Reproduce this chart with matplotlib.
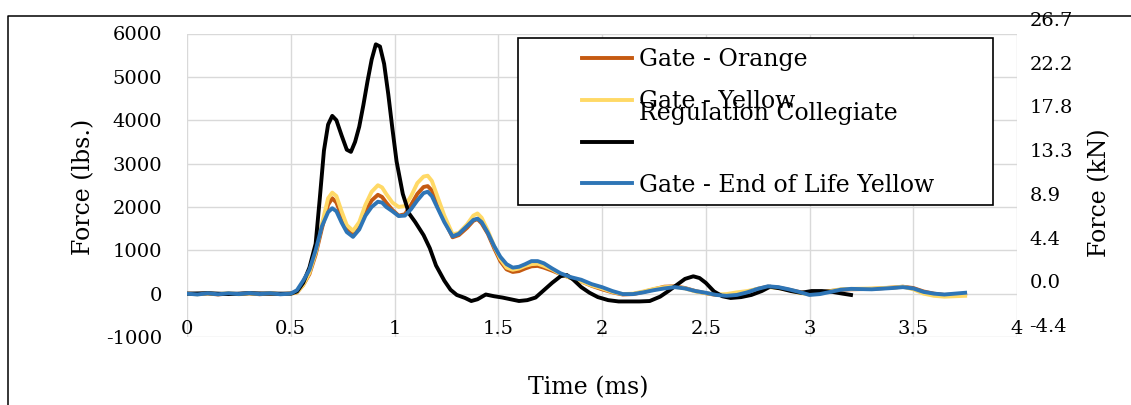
import numpy as np
import matplotlib
matplotlib.use("Agg")
import matplotlib.pyplot as plt
from matplotlib.lines import Line2D
from matplotlib.patches import Rectangle
from matplotlib.transforms import ScaledTranslation

plt.rcParams['font.family'] = ['DejaVu Serif']
plt.rcParams['axes.unicode_minus'] = False

# time (ms) for the three gate tests
t_gate = [0.0, 0.05, 0.1, 0.15, 0.2, 0.25, 0.3, 0.35, 0.4, 0.45, 0.5,
          0.53, 0.56, 0.59, 0.62, 0.65, 0.68, 0.70, 0.72, 0.745, 0.77, 0.80,
          0.83, 0.86, 0.89, 0.92, 0.94, 0.96, 0.99, 1.02, 1.05, 1.08, 1.11, 1.14, 1.16, 1.18,
          1.21, 1.24, 1.28, 1.31, 1.35, 1.38, 1.40, 1.42, 1.45, 1.48,
          1.51, 1.54, 1.57, 1.60, 1.63, 1.66, 1.69, 1.72, 1.76,
          1.80, 1.85, 1.90, 1.95, 2.00,
          2.05, 2.10, 2.15, 2.20, 2.25, 2.30, 2.35, 2.40, 2.45, 2.50,
          2.55, 2.60, 2.65, 2.70, 2.75, 2.80, 2.85, 2.90, 2.95, 3.00,
          3.05, 3.10, 3.15, 3.20,
          3.30, 3.40, 3.45, 3.50, 3.55, 3.60, 3.65, 3.70, 3.75]

gate_orange = [0, -10, 5, -20, 5, -10, 10, -15, 5, -10, 0,
               30, 200, 450, 900, 1500, 2050, 2200, 2100, 1800, 1500, 1380,
               1550, 1900, 2150, 2280, 2230, 2100, 1930, 1800, 1830, 2050, 2300, 2460, 2480, 2380,
               2050, 1700, 1300, 1350, 1520, 1680, 1720, 1620, 1380, 1050,
               750, 560, 500, 520, 580, 630, 640, 600, 530,
               450, 360, 280, 180, 100,
               30, -20, -10, 40, 100, 160, 170, 130, 60, 10,
               -30, -40, -20, 40, 110, 160, 140, 90, 40, 0,
               30, 60, 90, 100,
               110, 140, 160, 130, 50, 0, -30, -20, 0]

gate_yellow = [0, -15, 5, -10, 10, -15, 5, -10, 10, -10, 0,
               30, 200, 480, 950, 1600, 2200, 2330, 2250, 1900, 1580, 1450,
               1650, 2050, 2350, 2500, 2450, 2300, 2100, 2000, 2020, 2250, 2550, 2700, 2720, 2600,
               2200, 1800, 1370, 1400, 1600, 1800, 1850, 1750, 1450, 1100,
               800, 600, 550, 580, 640, 680, 690, 640, 560,
               450, 360, 280, 190, 120,
               40, -10, 0, 50, 110, 150, 160, 120, 50, 10,
               -20, -10, 30, 60, 110, 150, 130, 80, 20, -20,
               20, 60, 100, 110,
               120, 140, 160, 100, 0, -50, -70, -60, -50]

gate_eol = [0, -20, 10, -15, 10, -10, 15, -10, 10, -15, 0,
            80, 300, 550, 1000, 1550, 1880, 1970, 1900, 1640, 1420, 1310,
            1480, 1800, 2000, 2120, 2100, 2000, 1900, 1790, 1800, 1950, 2150, 2320, 2350, 2250,
            1950, 1650, 1320, 1380, 1560, 1700, 1730, 1650, 1400, 1100,
            850, 680, 600, 620, 680, 750, 750, 700, 580,
            470, 380, 320, 220, 150,
            60, -10, -10, 30, 80, 120, 150, 120, 60, 20,
            -30, -50, -30, 30, 110, 170, 150, 100, 40, -30,
            -10, 40, 90, 110,
            100, 130, 150, 120, 40, 0, -20, 0, 20]

# regulation collegiate test
t_reg = [0, 0.1, 0.2, 0.3, 0.4, 0.5,
         0.53, 0.56, 0.59, 0.62, 0.64, 0.66, 0.68, 0.70, 0.72, 0.745,
         0.77, 0.79, 0.81, 0.83, 0.85, 0.87, 0.89, 0.91, 0.93, 0.95,
         0.97, 0.99, 1.01, 1.04, 1.07, 1.10, 1.14, 1.17, 1.20, 1.24,
         1.27, 1.30, 1.34, 1.37, 1.40, 1.44, 1.48, 1.52, 1.56, 1.60,
         1.64, 1.68, 1.72, 1.76, 1.80, 1.83, 1.86, 1.90, 1.94, 1.98,
         2.03, 2.08, 2.13, 2.18, 2.23, 2.28, 2.32, 2.36, 2.40, 2.44,
         2.47, 2.50, 2.54, 2.58, 2.62, 2.67, 2.72, 2.77, 2.81, 2.86,
         2.91, 2.96, 3.01, 3.06, 3.11, 3.16, 3.20]
regulation = [0, 10, -10, 10, 0, 0,
              50, 250, 600, 1150, 2200, 3300, 3900, 4100, 4000, 3650,
              3320, 3270, 3500, 3850, 4350, 4900, 5400, 5750, 5700, 5300,
              4600, 3800, 3050, 2300, 1850, 1650, 1350, 1050, 650, 300,
              90, -30, -100, -170, -130, -20, -60, -90, -130, -170,
              -150, -90, 80, 250, 400, 430, 330, 150, 20, -80,
              -150, -180, -180, -180, -170, -70, 60, 200, 340, 400,
              360, 250, 50, -60, -100, -80, -30, 60, 160, 120,
              60, 20, 60, 60, 40, 0, -30]

x_ticks = [0, 0.5, 1, 1.5, 2, 2.5, 3, 3.5, 4]
x_labels = ['0', '0.5', '1', '1.5', '2', '2.5', '3', '3.5', '4']
lbs_ticks = [-1000, 0, 1000, 2000, 3000, 4000, 5000, 6000]
LBS_TO_KN = 0.004448

labels = ['Gate - Orange', 'Gate - Yellow', 'Regulation Collegiate', 'Gate - End of Life Yellow']
colors = ['#C55A11', '#FFD966', '#000000', '#2E75B6']

W, H = 1131, 405
fig = plt.figure(figsize=(W / 100, H / 100), dpi=100)

# main axes (lbs)
ax = fig.add_axes([187 / W, 1 - 337 / H, 830 / W, 303.5 / H])
lw = 2.8
l1, = ax.plot(t_gate, gate_orange, color=colors[0], lw=lw)
l2, = ax.plot(t_gate, gate_yellow, color=colors[1], lw=lw)
l3, = ax.plot(t_reg, regulation, color=colors[2], lw=lw)
l4, = ax.plot(t_gate, gate_eol, color=colors[3], lw=lw)

ax.set_xlim(0, 4)
ax.set_ylim(-1000, 6000)
ax.set_xticks(x_ticks)
ax.set_xticklabels(x_labels)
ax.set_yticks(lbs_ticks)
ax.grid(True, color='#d9d9d9', lw=1.0)
ax.set_axisbelow(True)
for s in ax.spines.values():
    s.set_visible(False)
ax.tick_params(axis='both', length=0, labelsize=14)
ax.tick_params(axis='x', pad=-12)
ax.tick_params(axis='y', pad=18)

ax.set_ylabel('Force (lbs.)', fontsize=17, va='center')
ax.yaxis.set_label_coords(-0.124, 0.494)
ax.set_xlabel('Time (ms)', fontsize=17, va='center')
ax.xaxis.set_label_coords(0.483, -0.168)

# secondary axes (kN), offset like the original
kn_ticks = [v * LBS_TO_KN for v in lbs_ticks]
ax2 = fig.add_axes([187 / W, 1 - 325 / H, 830 / W, 306 / H])
ax2.patch.set_visible(False)
ax2.set_xlim(0, 4)
ax2.set_ylim(kn_ticks[0], kn_ticks[-1])
ax2.set_xticks([])
ax2.yaxis.tick_right()
ax2.yaxis.set_label_position('right')
ax2.set_yticks(kn_ticks)
ax2.set_yticklabels([f'{v:.1f}' for v in kn_ticks])
for s in ax2.spines.values():
    s.set_visible(False)
ax2.tick_params(axis='y', length=0, labelsize=14, pad=9)
ax2.set_ylabel('Force (kN)', fontsize=17, va='center', rotation=90)
ax2.yaxis.set_label_coords(1.1, 0.431)

# legend box
box = Rectangle((518 / W, 1 - 205 / H), 475 / W, 167 / H, transform=fig.transFigure,
                facecolor='white', edgecolor='black', lw=1.2, zorder=4, clip_on=False)
ax2.add_patch(box)
leg = ax2.legend([l1, l2, l3, l4], labels, loc='upper left',
                 bbox_to_anchor=(582 / W, 1 - 48 / H), bbox_transform=fig.transFigure,
                 frameon=False, fontsize=17, borderpad=0, borderaxespad=0,
                 handlelength=2.1, handletextpad=0.3, labelspacing=0.8)
leg.set_zorder(5)
for h in leg.legend_handles:
    h.set_linewidth(lw)
t3 = leg.get_texts()[2]
t3.set_transform(t3.get_transform() + ScaledTranslation(0, 0.30, fig.dpi_scale_trans))

# outer frame
fig.add_artist(Line2D([8 / W, 8 / W, 1], [0, 1 - 15.7 / H, 1 - 15.7 / H],
                      transform=fig.transFigure, color='black', lw=1.1))

fig.savefig('out.png', dpi=100)
